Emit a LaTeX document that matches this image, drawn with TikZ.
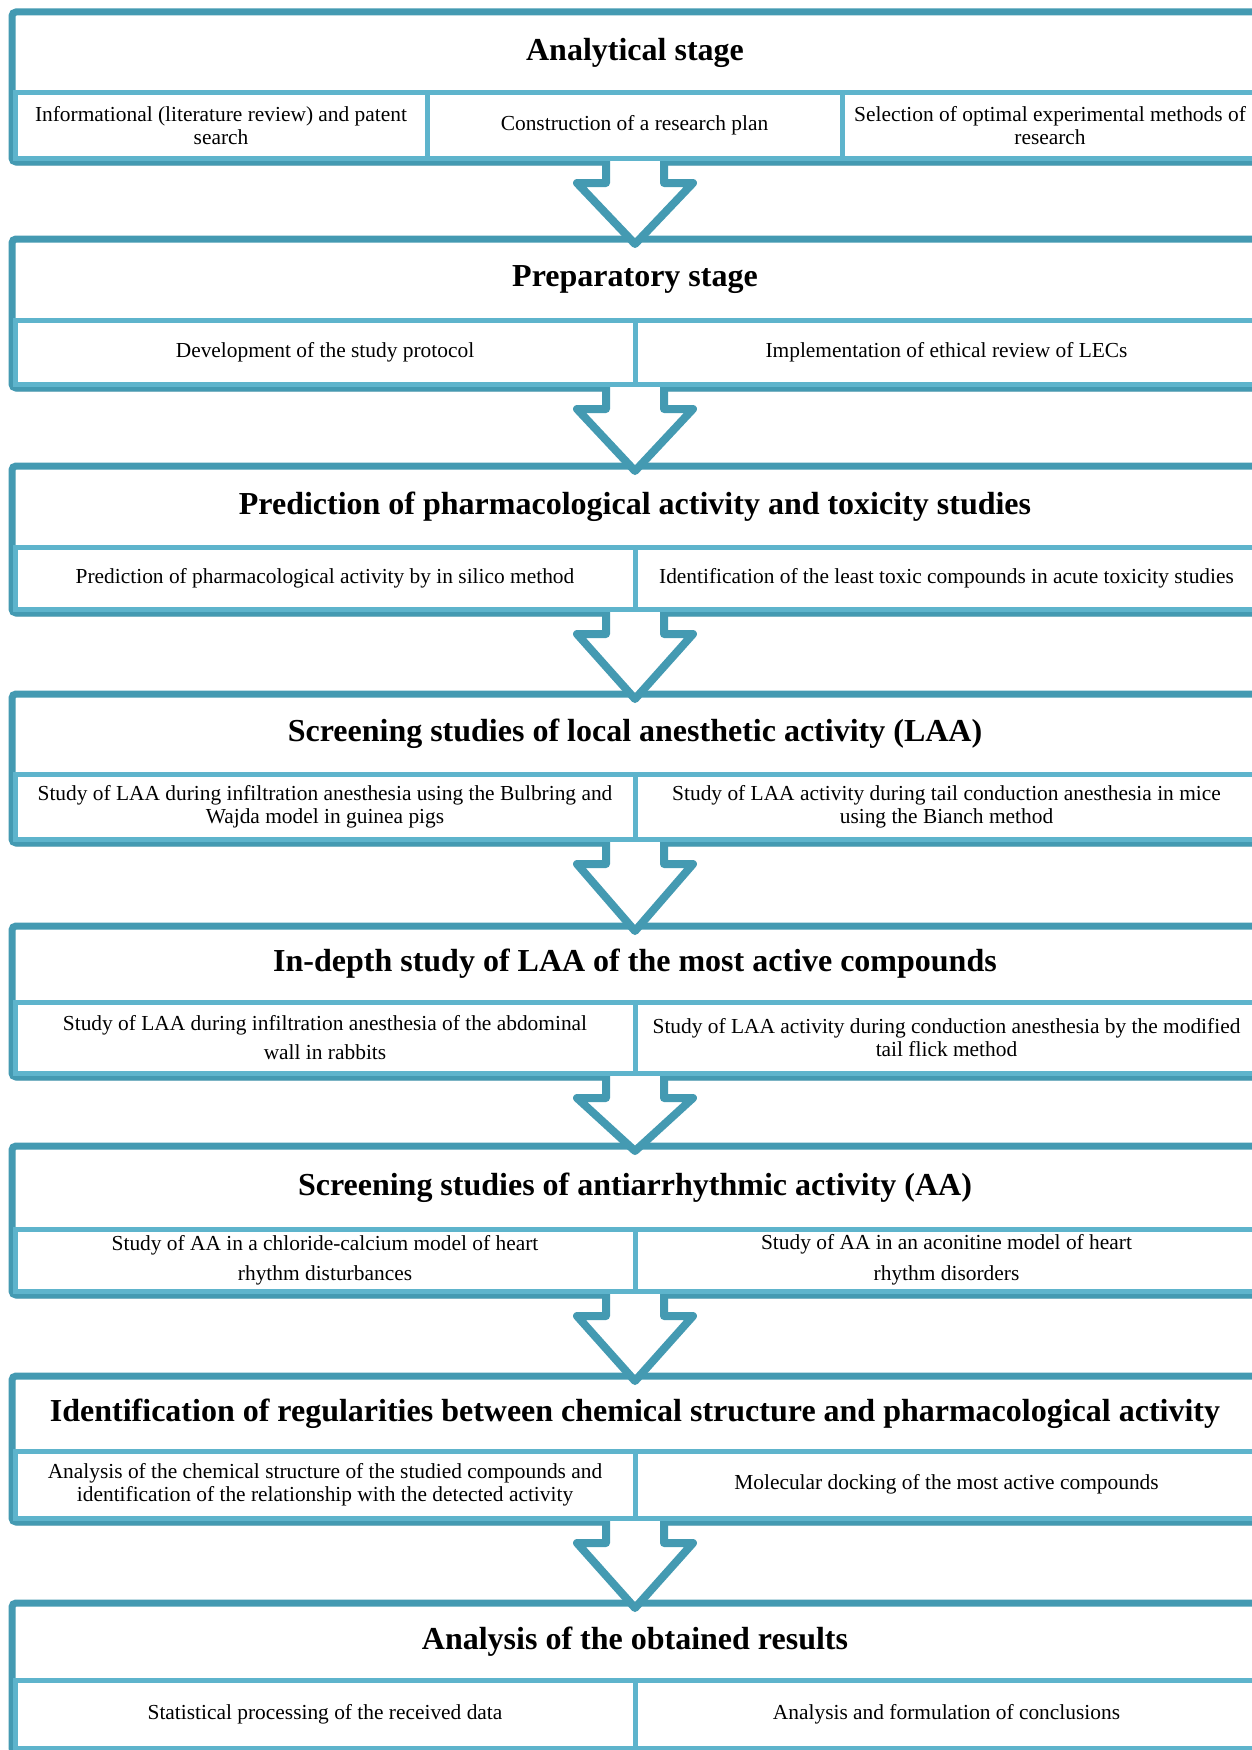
\documentclass[tikz,border=0pt]{standalone}
\usepackage{fontspec}
\setmainfont{Liberation Serif}
\usetikzlibrary{positioning, shadows, calc}

\definecolor{darkteal}{RGB}{68,154,178}
\definecolor{lightteal}{RGB}{94,180,204}

\begin{document}
\begin{tikzpicture}[x=0.5pt, y=-0.5pt,
    stage/.style={rectangle, rounded corners=2pt, draw=darkteal, line width=3.5pt, fill=white,
      minimum width=623pt, inner sep=0pt, outer sep=0pt,
      drop shadow={shadow xshift=0.6pt, shadow yshift=-1.8pt, opacity=0.3}},
    headtext/.style={font=\fontsize{16}{19}\selectfont\bfseries},
    cell/.style={rectangle, draw=lightteal, line width=2.5pt, fill=white, align=center,
      anchor=north west, inner sep=0pt, outer sep=0pt, minimum height=#1,
      font=\fontsize{10.7}{11.4}\selectfont},
    blockarrow/.style={draw=darkteal, fill=white, line width=4pt, line join=round}]

  \useasboundingbox (0,0) rectangle (1252,1750);
  \fill[white] (0,0) rectangle (1252,1750);
  \clip (0,0) rectangle (1252,1750);

  % Stages
  \foreach \n/\t/\d/\b/\hd in {
      1/12/93/162/{Analytical stage},
      2/239/320/388/{Preparatory stage},
      3/466/547/613/{Prediction of pharmacological activity and toxicity studies},
      4/694/774/843/{Screening studies of local anesthetic activity (LAA)},
      5/926/1002/1077/{In-depth study of LAA of the most active compounds},
      6/1146/1229/1295/{Screening studies of antiarrhythmic activity (AA)},
      7/1376/1451/1522/{Identification of regularities between chemical structure and pharmacological activity},
      8/1603/1680/1752/{Analysis of the obtained results}} {
    \node[stage, minimum height={(\b-\t)*0.5}] (s\n) at (635,{(\t+\b)/2}) {};
    \node[headtext] (h\n) at (635,{(\t+\d)/2}) {\hd};
  }

  % Arrows
  \foreach \i/\j in {1/2,2/3,3/4,4/5,5/6,6/7,7/8}
    \filldraw[blockarrow] ($(s\i.south)+(-29,-2)$) -- ++(0,23) -- ++(-29,0)
      -- ($(s\j.north)+(0,5)$) -- ($(s\i.south)+(58,21)$) -- ++(-29,0) -- ++(0,-23);

  % Cells
  \node[cell=32.5pt, minimum width=206pt] (c1a) at (15,93) {Informational (literature review) and patent\\search};
  \node[cell=32.5pt, minimum width=207.5pt] (c1b) at (427,93) {Construction of a research plan};
  \node[cell=32.5pt, minimum width=208pt] (c1c) at (842,93) {Selection of optimal experimental methods of\\research};

  \node[cell=32pt, minimum width=310pt] (c2a) at (15,320) {Development of the study protocol};
  \node[cell=32pt, minimum width=311.5pt] (c2b) at (635,320) {Implementation of ethical review of LECs};

  \node[cell=31pt, minimum width=310pt] (c3a) at (15,547) {Prediction of pharmacological activity by in silico method};
  \node[cell=31pt, minimum width=311.5pt] (c3b) at (635,547) {Identification of the least toxic compounds in acute toxicity studies};

  \node[cell=32.5pt, minimum width=310pt] (c4a) at (15,774) {Study of LAA during infiltration anesthesia using the Bulbring and\\Wajda model in guinea pigs};
  \node[cell=32.5pt, minimum width=311.5pt] (c4b) at (635,774) {Study of LAA activity during tail conduction anesthesia in mice\\using the Bianch method};

  \node[cell=35.5pt, minimum width=310pt] (c5a) at (15,1002) {Study of LAA during infiltration anesthesia of the abdominal\\[3.5pt]wall in rabbits};
  \node[cell=35.5pt, minimum width=311.5pt] (c5b) at (635,1002) {Study of LAA activity during conduction anesthesia by the modified\\tail flick method};

  \node[cell=31pt, minimum width=310pt] (c6a) at (15,1229) {Study of AA in a chloride-calcium model of heart\\[3.5pt]rhythm disturbances};
  \node[cell=31pt, minimum width=311.5pt] (c6b) at (635,1229) {Study of AA in an aconitine model of heart\\[4pt]rhythm disorders};

  \node[cell=33.5pt, minimum width=310pt] (c7a) at (15,1451) {Analysis of the chemical structure of the studied compounds and\\identification of the relationship with the detected activity};
  \node[cell=33.5pt, minimum width=311.5pt] (c7b) at (635,1451) {Molecular docking of the most active compounds};

  \node[cell=34pt, minimum width=310pt] (c8a) at (15,1680) {Statistical processing of the received data};
  \node[cell=34pt, minimum width=311.5pt] (c8b) at (635,1680) {Analysis and formulation of conclusions};
\end{tikzpicture}
\end{document}
